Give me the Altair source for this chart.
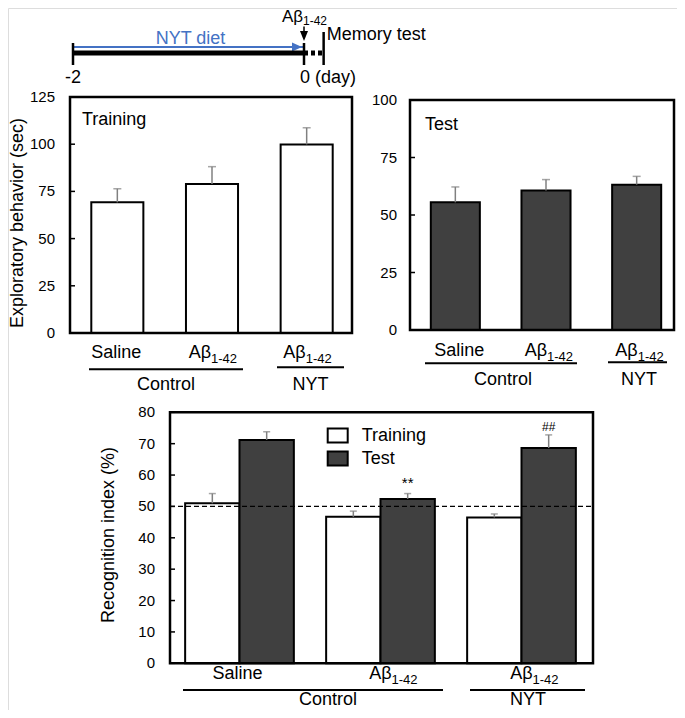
import altair as alt
import pandas as pd

FONT = "Liberation Sans"
BLUE = "#4472C4"
DARK = "#404040"
GREY = "#808080"

# ---------------- data ----------------
diet_days = [-2, 0]            # NYT diet from day -2 until Aβ injection (day 0)
memory_test_day = 0.17         # memory test shortly after day 0
groups = ["Saline|Control", "Abeta|Control", "Abeta|NYT"]
group_main = ["Saline", "Aβ", "Aβ"]
group_sub = ["", "1-42", "1-42"]

training_sec = [69.2, 78.9, 99.9]
training_sec_err = [7.2, 9.2, 8.8]
test_sec = [55.5, 60.7, 63.2]
test_sec_err = [6.7, 4.7, 3.6]

phases = ["Training", "Test"]
ri_training = [51.0, 46.7, 46.5]
ri_training_err = [3.1, 1.8, 1.1]
ri_test = [71.2, 52.4, 68.6]
ri_test_err = [2.6, 1.7, 4.2]
ri_test_marks = ["", "**", "##"]
chance_level = [50]

ticks_training = [0, 25, 50, 75, 100, 125]
ticks_test = [0, 25, 50, 75, 100]
ticks_ri = [0, 10, 20, 30, 40, 50, 60, 70, 80]


def one(**kw):
    return pd.DataFrame([kw])


def text_at(txt, x, y, size=18, align="center", color="black", angle=0, baseline="alphabetic"):
    return alt.Chart(one(t=txt)).mark_text(
        fontSize=size, align=align, color=color, angle=angle, baseline=baseline, font=FONT
    ).encode(x=alt.value(x), y=alt.value(y), text="t:N")


def hline(x1, x2, y, width=2, color="black", dash=None):
    kw = dict(color=color, strokeWidth=width)
    if dash:
        kw["strokeDash"] = dash
    return alt.Chart(one(k=0)).mark_rule(**kw).encode(
        x=alt.value(x1), x2=alt.value(x2), y=alt.value(y))


def y_ticks(ticks, x0, gap):
    """Inward tick marks and tick labels of a y axis, placed through the panel's y scale."""
    tdf = alt.Chart(pd.DataFrame({"t": ticks}))
    return [
        tdf.mark_rule(color="black", strokeWidth=1.5).encode(
            y=alt.Y("t:Q", axis=None), x=alt.value(x0), x2=alt.value(x0 + 5)),
        tdf.mark_text(align="right", baseline="middle", fontSize=15, font=FONT).encode(
            y=alt.Y("t:Q", axis=None), x=alt.value(x0 - gap), text="t:Q"),
    ]


# ---------------- timeline ----------------
TX = alt.Scale(domain=[-2, 0], range=[65, 296], nice=False, zero=False)
tl = pd.DataFrame({"start": [diet_days[0]], "end": [diet_days[1]], "mem": [memory_test_day]})
tl_base = alt.Chart(tl)
timeline = alt.layer(
    tl_base.mark_rule(color=BLUE, strokeWidth=2).encode(
        x=alt.X("start:Q", scale=TX, axis=None), x2="end:Q", y=alt.value(39)),
    alt.Chart(one(day=diet_days[1])).mark_point(
        shape="M-1.2,-0.45L-0.2,0L-1.2,0.45Z", size=400, filled=True, color=BLUE, opacity=1
    ).encode(x=alt.X("day:Q", scale=TX, axis=None), y=alt.value(39)),
    tl_base.mark_rule(color="black", strokeWidth=5).encode(
        x=alt.X("start:Q", scale=TX, axis=None), x2="end:Q", y=alt.value(45)),
    tl_base.mark_rule(color="black", strokeWidth=5, strokeDash=[4, 3]).encode(
        x=alt.X("end:Q", scale=TX, axis=None), x2="mem:Q", y=alt.value(45)),
    alt.Chart(pd.DataFrame({"day": diet_days})).mark_rule(color="black", strokeWidth=2.5).encode(
        x=alt.X("day:Q", scale=TX, axis=None), y=alt.value(35), y2=alt.value(57)),
    alt.Chart(one(day=memory_test_day)).mark_rule(color="black", strokeWidth=2.5).encode(
        x=alt.X("day:Q", scale=TX, axis=None), y=alt.value(24), y2=alt.value(57)),
    # injection arrow
    alt.Chart(one(day=diet_days[1])).mark_rule(color="black", strokeWidth=1.5).encode(
        x=alt.X("day:Q", scale=TX, axis=None), y=alt.value(18.5), y2=alt.value(26)),
    alt.Chart(one(day=diet_days[1])).mark_point(
        shape="M-0.4,-1L0.4,-1L0,0Z", size=400, filled=True, color="black", opacity=1
    ).encode(x=alt.X("day:Q", scale=TX, axis=None), y=alt.value(33)),
    # texts
    alt.Chart(one(day=-1, t="NYT diet")).mark_text(fontSize=18, color=BLUE, dx=2, baseline="alphabetic", font=FONT).encode(
        x=alt.X("day:Q", scale=TX, axis=None), y=alt.value(36), text="t:N"),
    alt.Chart(one(day=-2, t="-2")).mark_text(fontSize=18, baseline="alphabetic", font=FONT).encode(
        x=alt.X("day:Q", scale=TX, axis=None), y=alt.value(74.5), text="t:N"),
    alt.Chart(one(day=0, t="0 (day)")).mark_text(fontSize=18, align="left", dx=-4, baseline="alphabetic", font=FONT).encode(
        x=alt.X("day:Q", scale=TX, axis=None), y=alt.value(74.5), text="t:N"),
    alt.Chart(one(day=0, t="Aβ")).mark_text(fontSize=17, align="right", dx=-1, baseline="alphabetic", font=FONT).encode(
        x=alt.X("day:Q", scale=TX, axis=None), y=alt.value(13.5), text="t:N"),
    alt.Chart(one(day=0, t="1-42")).mark_text(fontSize=12, align="left", dx=-1, baseline="alphabetic", font=FONT).encode(
        x=alt.X("day:Q", scale=TX, axis=None), y=alt.value(17), text="t:N"),
    alt.Chart(one(day=memory_test_day, t="Memory test")).mark_text(fontSize=18, align="left", dx=3, baseline="alphabetic", font=FONT).encode(
        x=alt.X("day:Q", scale=TX, axis=None), y=alt.value(32), text="t:N"),
)


# ---------------- top bar panels ----------------
def panel_top(values, errs, fill, ymax, ticks, fx0, fx1, fyb, fyt, band, pad, gap,
              lab_y, dx_sal, dx_ab, lines, gtexts, gtext_y, corner):
    df = pd.DataFrame({"group": groups, "main": group_main, "sub": group_sub,
                       "value": values,
                       "top": [round(v + e, 2) for v, e in zip(values, errs)]})
    xs = alt.Scale(domain=groups, range=band, paddingInner=pad, paddingOuter=pad / 2)
    ys = alt.Scale(domain=[0, ymax], range=[fyb, fyt], nice=False, zero=False)
    X = alt.X("group:N", scale=xs, axis=None, sort=groups)
    base = alt.Chart(df)
    layers = [
        base.mark_bar(fill=fill, stroke="black", strokeWidth=2).encode(
            x=X, y=alt.Y("value:Q", scale=ys, axis=None)),
        base.mark_rule(color=GREY, strokeWidth=1.5).encode(
            x=X, y=alt.Y("value:Q", axis=None), y2="top:Q"),
        base.mark_tick(color=GREY, thickness=1.5, size=8).encode(
            x=X, y=alt.Y("top:Q", axis=None)),
        *y_ticks(ticks, fx0, gap),
        alt.Chart(one(lo=0, hi=ymax)).mark_rect(fillOpacity=0, stroke="black", strokeWidth=2.5).encode(
            x=alt.value(fx0), x2=alt.value(fx1), y=alt.Y("lo:Q", axis=None), y2="hi:Q"),
        base.transform_filter("datum.sub == ''").mark_text(
            fontSize=18, baseline="alphabetic", dx=dx_sal, font=FONT).encode(
            x=X, y=alt.value(lab_y), text="main:N"),
        base.transform_filter("datum.sub != ''").mark_text(
            fontSize=18, align="right", dx=dx_ab, baseline="alphabetic", font=FONT).encode(
            x=X, y=alt.value(lab_y), text="main:N"),
        base.transform_filter("datum.sub != ''").mark_text(
            fontSize=13, align="left", dx=dx_ab, baseline="alphabetic", font=FONT).encode(
            x=X, y=alt.value(lab_y + 4.5), text="sub:N"),
        text_at(corner[0], corner[1], corner[2], align="left"),
    ]
    for (x1, x2, y) in lines:
        layers.append(hline(x1, x2, y))
    for (t, x) in gtexts:
        layers.append(text_at(t, x, gtext_y))
    return alt.layer(*layers)


panel1 = panel_top(training_sec, training_sec_err, "white", 125, ticks_training,
                   62, 344, 325, 89, [62, 346], 0.45, 15,
                   350.3, -1, -1, [(81, 235, 361.3), (269, 336, 359.3)],
                   [("Control", 158), ("NYT", 302.5)], 381.7, ("Training", 74, 117))

panel2 = panel_top(test_sec, test_sec_err, DARK, 100, ticks_test,
                   402, 666, 322, 92, [402, 674], 0.459, 13,
                   348, 4, 1, [(417, 569, 355.3), (600, 659, 354.3)],
                   [("Control", 495), ("NYT", 631)], 377, ("Test", 417, 122))

# ---------------- bottom recognition panel ----------------
df3 = pd.DataFrame({
    "group": groups * 2,
    "main": group_main * 2,
    "sub": group_sub * 2,
    "phase": ["Training"] * 3 + ["Test"] * 3,
    "value": ri_training + ri_test,
    "top": [round(v + e, 2) for v, e in zip(ri_training + ri_test, ri_training_err + ri_test_err)],
    "mark": [""] * 3 + ri_test_marks,
})
fx0, fx1, fyb, fyt = 162, 585, 655.3, 404.3
X3 = alt.X("group:N", scale=alt.Scale(domain=groups, range=[161, 584], paddingInner=0.229,
                                       paddingOuter=0.1145), axis=None, sort=groups)
XO = alt.XOffset("phase:N", scale=alt.Scale(domain=phases, paddingInner=0, paddingOuter=0), sort=phases)
Y3 = alt.Scale(domain=[0, 80], range=[fyb, fyt], nice=False, zero=False)
b3 = alt.Chart(df3)
lab_df = b3.transform_filter("datum.phase == 'Training'")
lab_y3 = 671
panel3 = alt.layer(
    b3.mark_bar(stroke="black", strokeWidth=2).encode(
        x=X3, xOffset=XO,
        y=alt.Y("value:Q", scale=Y3, axis=None),
        fill=alt.Fill("phase:N", sort=phases,
                      scale=alt.Scale(domain=phases, range=["white", DARK]),
                      legend=alt.Legend(orient="none", legendX=318.7, legendY=416.5, title=None,
                                        padding=0, symbolType="M-1,-0.7H1V0.7H-1Z", symbolSize=400,
                                        symbolStrokeColor="black", symbolStrokeWidth=2,
                                        labelFontSize=18, labelFont=FONT, labelColor="black",
                                        labelOffset=13, rowPadding=1))),
    b3.mark_rule(color=GREY, strokeWidth=1.5).encode(
        x=X3, xOffset=XO, y=alt.Y("value:Q", axis=None), y2="top:Q"),
    b3.mark_tick(color=GREY, thickness=1.5, size=7).encode(
        x=X3, xOffset=XO, y=alt.Y("top:Q", axis=None)),
    alt.Chart(pd.DataFrame({"chance": chance_level})).mark_rule(
        color="black", strokeWidth=1.2, strokeDash=[5, 3]).encode(
        y=alt.Y("chance:Q", axis=None), x=alt.value(fx0), x2=alt.value(fx1)),
    b3.transform_filter("datum.mark == '**'").mark_text(
        fontSize=15, dy=-6, baseline="alphabetic", font=FONT).encode(
        x=X3, xOffset=XO, y=alt.Y("top:Q", axis=None), text="mark:N"),
    b3.transform_filter("datum.mark == '##'").mark_text(
        fontSize=12, dy=-4, baseline="alphabetic", font=FONT).encode(
        x=X3, xOffset=XO, y=alt.Y("top:Q", axis=None), text="mark:N"),
    *y_ticks(ticks_ri, fx0, 15),
    alt.Chart(one(lo=0, hi=80)).mark_rect(fillOpacity=0, stroke="black", strokeWidth=2.5).encode(
        x=alt.value(fx0), x2=alt.value(fx1), y=alt.Y("lo:Q", axis=None), y2="hi:Q"),
    lab_df.transform_filter("datum.sub == ''").mark_text(
        fontSize=18, baseline="alphabetic", dx=-2, font=FONT).encode(
        x=X3, y=alt.value(lab_y3), text="main:N"),
    lab_df.transform_filter("datum.sub != ''").mark_text(
        fontSize=18, align="right", dx=11, baseline="alphabetic", font=FONT).encode(
        x=X3, y=alt.value(lab_y3), text="main:N"),
    lab_df.transform_filter("datum.sub != ''").mark_text(
        fontSize=13, align="left", dx=11, baseline="alphabetic", font=FONT).encode(
        x=X3, y=alt.value(lab_y3 + 4.5), text="sub:N"),
    hline(175, 435, 682),
    hline(462, 577, 682),
    text_at("Control", 320, 697),
    text_at("NYT", 520, 697),
)

titles = alt.layer(
    text_at("Exploratory behavior (sec)", 10, 215, angle=270, baseline="middle"),
    text_at("Recognition index (%)", 101, 527, angle=270, baseline="middle"),
)

chart = alt.layer(timeline, panel1, panel2, panel3, titles).resolve_scale(
    x="independent", y="independent"
).resolve_axis(
    x="independent", y="independent"
).properties(
    width=669, height=702, autosize=alt.AutoSizeParams(type="none"), padding=0
).configure_view(stroke=None).configure(font=FONT)

chart.save("out.html", embed_options={"renderer": "svg", "actions": False})
